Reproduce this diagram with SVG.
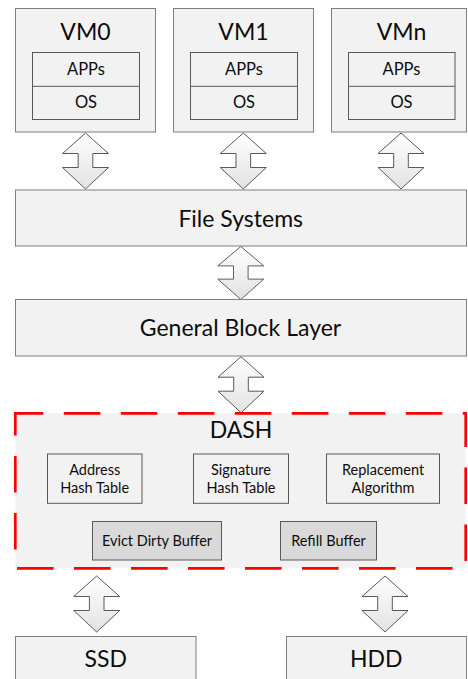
<svg xmlns="http://www.w3.org/2000/svg" width="468" height="679" viewBox="0 0 468 679">
<defs>
<linearGradient id="ag" x1="0" y1="0" x2="0" y2="1">
<stop offset="0" stop-color="#ffffff"/>
<stop offset="1" stop-color="#e2e2e2"/>
</linearGradient>
<path id="darrow" d="M0,0 L23,20.5 L7.3,20.5 L7.3,34.5 L23,34.5 L0,56 L-23,34.5 L-7.3,34.5 L-7.3,20.5 L-23,20.5 Z"/>
</defs>
<style>
.box{fill:#f2f2f2;stroke:#7f7f7f;stroke-width:1}
.inner{fill:#f2f2f2;stroke:#595959;stroke-width:1}
.sub{fill:#f2f2f2;stroke:#595959;stroke-width:1}
.buf{fill:#d9d9d9;stroke:#595959;stroke-width:1}
.dash{fill:#f2f2f2;stroke:#ff0000;stroke-width:2.7;stroke-dasharray:36.6 20.4;stroke-dashoffset:8.5}
.arr{fill:url(#ag);stroke:#595959;stroke-width:1}
text{font-family:Lato,"Open Sans",sans-serif;fill:#0d0d0d;text-anchor:middle}
.big{font-size:23px}
.mid{font-size:16.5px}
.sm{font-size:14.5px}
</style>

<g id="connectors">
<use href="#darrow" class="arr" transform="translate(85.5,133)"/>
<use href="#darrow" class="arr" transform="translate(243.3,133)"/>
<use href="#darrow" class="arr" transform="translate(401,133)"/>
<use href="#darrow" class="arr" transform="translate(240.8,246.5) scale(1,0.946)"/>
<use href="#darrow" class="arr" transform="translate(241,356.7)"/>
<use href="#darrow" class="arr" transform="translate(96.7,576)"/>
<use href="#darrow" class="arr" transform="translate(385,576)"/>
</g>

<g id="vm0">
<rect class="box" x="15.5" y="8.5" width="140" height="123.5"/>
<text class="big" x="85.5" y="40">VM0</text>
<rect class="inner" x="32.5" y="52.5" width="107" height="67"/>
<line x1="32.5" y1="86.3" x2="139.5" y2="86.3" stroke="#595959"/>
<text class="mid" x="86" y="75">APPs</text>
<text class="mid" x="86" y="108.3">OS</text>
</g>
<g id="vm1">
<rect class="box" x="173.5" y="8.5" width="140" height="123.5"/>
<text class="big" x="243.5" y="40">VM1</text>
<rect class="inner" x="190.5" y="52.5" width="107" height="67"/>
<line x1="190.5" y1="86.3" x2="297.5" y2="86.3" stroke="#595959"/>
<text class="mid" x="244" y="75">APPs</text>
<text class="mid" x="244" y="108.3">OS</text>
</g>
<g id="vmn">
<rect class="box" x="331.5" y="8.5" width="135" height="123.5"/>
<text class="big" x="401.5" y="40">VMn</text>
<rect class="inner" x="348.5" y="52.5" width="106.5" height="67"/>
<line x1="348.5" y1="86.3" x2="455" y2="86.3" stroke="#595959"/>
<text class="mid" x="401.5" y="75">APPs</text>
<text class="mid" x="401.5" y="108.3">OS</text>
</g>

<g id="filesystems">
<rect class="box" x="15.5" y="190" width="451" height="56"/>
<text class="big" x="240.7" y="226.7">File Systems</text>
</g>
<g id="blocklayer">
<rect class="box" x="15.5" y="299.5" width="451" height="56.5"/>
<text class="big" x="240.5" y="336">General Block Layer</text>
</g>

<g id="dash">
<rect class="dash" x="15.3" y="413.3" width="450.4" height="155"/>
<text class="big" x="241" y="438.3">DASH</text>
</g>
<g id="addr">
<rect class="sub" x="47.5" y="454" width="94.5" height="49.3"/>
<text class="sm" x="94.7" y="475">Address</text>
<text class="sm" x="94.7" y="492.7">Hash Table</text>
</g>
<g id="sig">
<rect class="sub" x="193.5" y="454" width="95" height="49.3"/>
<text class="sm" x="241" y="475">Signature</text>
<text class="sm" x="241" y="492.7">Hash Table</text>
</g>
<g id="repl">
<rect class="sub" x="326.5" y="454" width="113" height="49.3"/>
<text class="sm" x="383" y="475">Replacement</text>
<text class="sm" x="383" y="492.7">Algorithm</text>
</g>
<g id="evict">
<rect class="buf" x="92.5" y="521.5" width="129" height="38.5"/>
<text class="sm" x="157" y="546">Evict Dirty Buffer</text>
</g>
<g id="refill">
<rect class="buf" x="280.5" y="521.5" width="96" height="38.5"/>
<text class="sm" x="328.5" y="546">Refill Buffer</text>
</g>

<g id="ssd">
<rect class="box" x="15.5" y="636.5" width="180.5" height="60"/>
<text class="big" x="105.7" y="667.3">SSD</text>
</g>
<g id="hdd">
<rect class="box" x="286.5" y="636.5" width="180" height="60"/>
<text class="big" x="376.3" y="667.3">HDD</text>
</g>
</svg>
